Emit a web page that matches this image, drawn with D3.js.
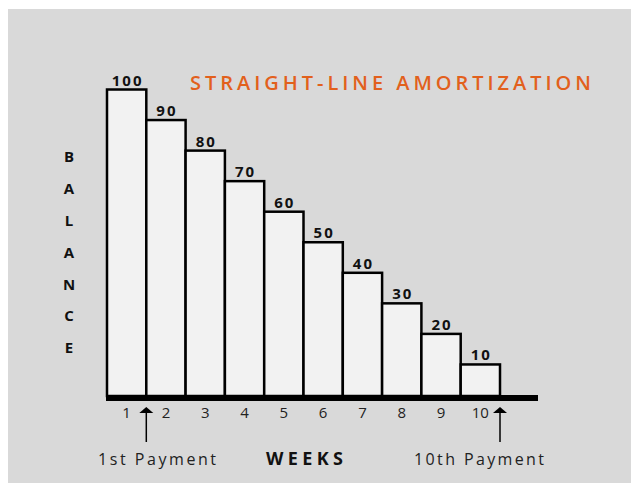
<!DOCTYPE html>
<html><head><meta charset="utf-8">
<script src="https://cdn.jsdelivr.net/npm/d3@7"></script>
<style>
html,body{margin:0;padding:0;background:#fff;}
svg{display:block;}
text{font-family:"Open Sans","DejaVu Sans",sans-serif;}
</style></head>
<body>
<script>
const weeks = [1,2,3,4,5,6,7,8,9,10];
const balances = [100,90,80,70,60,50,40,30,20,10];
const yLetters = ["B","A","L","A","N","C","E"];
const title = "STRAIGHT-LINE AMORTIZATION";
const xTitle = "WEEKS";
const arrowLabels = ["1st Payment","10th Payment"];

const W = 631, H = 483;
const svg = d3.select("body").append("svg").attr("width", W).attr("height", H);
svg.append("rect").attr("x", 8).attr("y", 9).attr("width", W-8).attr("height", H-9).attr("fill", "#d9d9d9");

const x = d3.scaleBand().domain(weeks).range([107, 500]).padding(0);
const y = d3.scaleLinear().domain([0, 100]).range([395, 89.5]);

// bars
svg.selectAll("rect.bar").data(weeks).enter().append("rect")
  .attr("class","bar")
  .attr("x", d => x(d))
  .attr("y", (d,i) => y(balances[i]))
  .attr("width", x.bandwidth())
  .attr("height", (d,i) => y(0) - y(balances[i]) + 1)
  .attr("fill", "#f2f2f2").attr("stroke", "#000").attr("stroke-width", 2.5);

// value labels
svg.selectAll("text.val").data(weeks).enter().append("text")
  .attr("class","val")
  .attr("x", d => x(d) + x.bandwidth()/2 + 1)
  .attr("y", (d,i) => y(balances[i]) - 4)
  .attr("text-anchor","middle")
  .attr("font-size", 15).attr("font-weight", "bold")
  .attr("letter-spacing", "2px")
  .attr("fill","#111")
  .text((d,i) => balances[i]);

// baseline
svg.append("rect").attr("x", x.range()[0] - 1).attr("y", y(0))
  .attr("width", 538 - x.range()[0] + 1).attr("height", 6).attr("fill", "#000");

// x axis tick labels
const axis = d3.axisBottom(x).tickSize(0).tickPadding(6);
const ax = svg.append("g").attr("transform", `translate(0,${y(0)+6})`).call(axis);
ax.select(".domain").remove();
ax.selectAll("text").attr("font-size", 15).attr("fill", "#222")
  .attr("font-family", '"Open Sans","DejaVu Sans",sans-serif');

// arrows
const arrowX = [x(2), x(10) + x.bandwidth()];
arrowX.forEach(ax0 => {
  svg.append("line").attr("x1", ax0).attr("x2", ax0).attr("y1", 411).attr("y2", 442)
    .attr("stroke", "#000").attr("stroke-width", 1.5);
  svg.append("path").attr("d", `M${ax0},407 L${ax0-7},413 L${ax0+7},413 Z`).attr("fill", "#000");
});

// arrow labels
svg.append("text").attr("x", 98).attr("y", 465).attr("font-size", 16)
  .attr("textLength", 118).attr("lengthAdjust","spacing").attr("fill","#222").text(arrowLabels[0]);
svg.append("text").attr("x", 414).attr("y", 465).attr("font-size", 16)
  .attr("textLength", 130).attr("lengthAdjust","spacing").attr("fill","#222").text(arrowLabels[1]);
svg.append("text").attr("x", 266).attr("y", 465).attr("font-size", 18).attr("font-weight","bold")
  .attr("textLength", 77).attr("lengthAdjust","spacing").attr("fill","#111").text(xTitle);

// y label letters
svg.selectAll("text.yl").data(yLetters).enter().append("text")
  .attr("class","yl")
  .attr("x", 69).attr("y", (d,i) => 157 + i*31.8)
  .attr("dy", "0.36em")
  .attr("text-anchor","middle").attr("font-size", 15).attr("font-weight","bold")
  .attr("fill","#111").text(d => d);

// title
svg.append("text").attr("x", 190).attr("y", 90).attr("font-size", 20).attr("font-weight", 600)
  .attr("textLength", 401).attr("lengthAdjust","spacing")
  .attr("fill", "#e2601c").text(title);
</script>
</body></html>
